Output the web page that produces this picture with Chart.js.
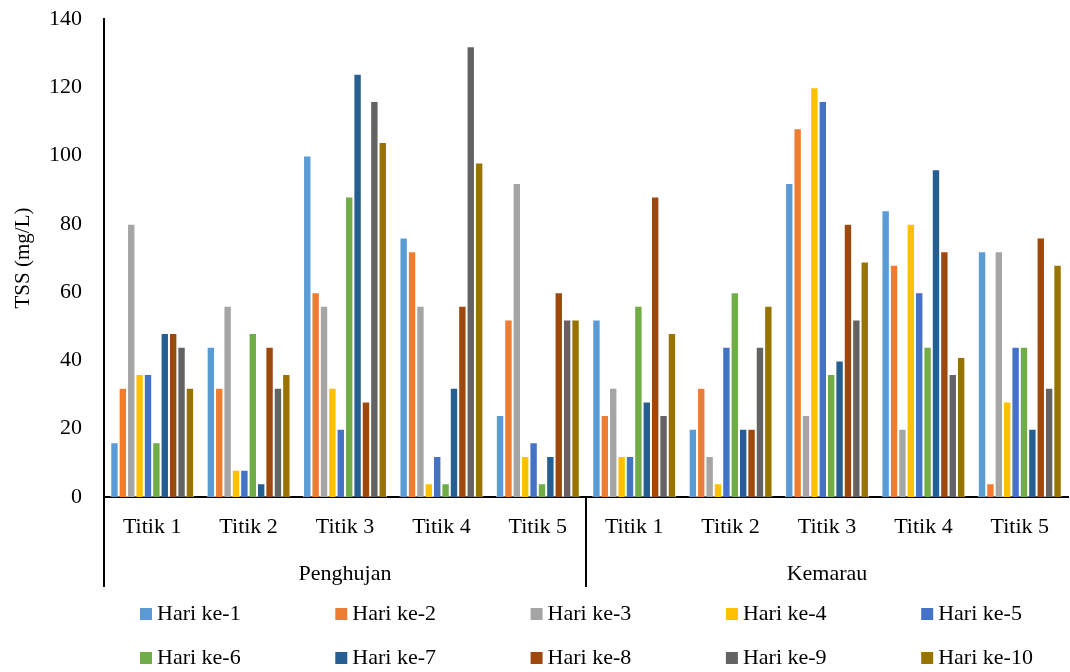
<!DOCTYPE html>
<html>
<head>
<meta charset="utf-8">
<script src="https://cdn.jsdelivr.net/npm/chart.js@4/dist/chart.umd.min.js"></script>
<style>
  html, body { margin: 0; padding: 0; background: #ffffff; }
  #wrap { width: 1070px; height: 672px; }
</style>
</head>
<body>
<div id="wrap"><canvas id="chart" width="1070" height="672"></canvas></div>
<script>
// Sampling points, grouped by season
const categories = ['Titik 1', 'Titik 2', 'Titik 3', 'Titik 4', 'Titik 5',
                    'Titik 1', 'Titik 2', 'Titik 3', 'Titik 4', 'Titik 5'];
const seasons = ['Penghujan', 'Kemarau'];
const pointsPerSeason = 5;

const seriesNames = ['Hari ke-1', 'Hari ke-2', 'Hari ke-3', 'Hari ke-4', 'Hari ke-5',
                     'Hari ke-6', 'Hari ke-7', 'Hari ke-8', 'Hari ke-9', 'Hari ke-10'];

// TSS (mg/L) per day, Penghujan Titik 1-5 then Kemarau Titik 1-5
const hari1  = [16, 44, 100, 76, 24,   52, 20, 92, 84, 72];
const hari2  = [32, 32, 60, 72, 52,    24, 32, 108, 68, 4];
const hari3  = [80, 56, 56, 56, 92,    32, 12, 24, 20, 72];
const hari4  = [36, 8, 32, 4, 12,      12, 4, 120, 80, 28];
const hari5  = [36, 8, 20, 12, 16,     12, 44, 116, 60, 44];
const hari6  = [16, 48, 88, 4, 4,      56, 60, 36, 44, 44];
const hari7  = [48, 4, 124, 32, 12,    28, 20, 40, 96, 20];
const hari8  = [48, 44, 28, 56, 60,    88, 20, 80, 72, 76];
const hari9  = [44, 32, 116, 132, 52,  24, 44, 52, 36, 32];
const hari10 = [32, 36, 104, 98, 52,   48, 56, 69, 41, 68];

const yTicks = { min: 0, max: 140, step: 20 };
const yTitle = 'TSS (mg/L)';

const seriesValues = [hari1, hari2, hari3, hari4, hari5, hari6, hari7, hari8, hari9, hari10];
const palette = ['#5B9BD5', '#ED7D31', '#A5A5A5', '#FFC000', '#4472C4',
                 '#70AD47', '#255E91', '#9E480E', '#636363', '#997300'];

const FONT = '"Liberation Serif", "Times New Roman", serif';

const datasets = seriesNames.map((name, i) => ({
  label: name,
  data: seriesValues[i],
  backgroundColor: palette[i],
  borderColor: 'rgba(255,255,255,0.75)',
  borderWidth: 1,
  borderSkipped: 'bottom',
  categoryPercentage: 0.87,
  barPercentage: 1.0
}));

// Season labels and separators beneath the category labels
const seasonAxis = {
  id: 'seasonAxis',
  afterDraw(chart) {
    const { ctx, scales: { x } } = chart;
    const bottom = chart.chartArea.bottom;
    const lineEnd = 587;
    const bounds = [x.left];
    for (let s = 1; s < seasons.length; s++) {
      const a = x.getPixelForValue(s * pointsPerSeason - 1);
      const b = x.getPixelForValue(s * pointsPerSeason);
      bounds.push((a + b) / 2);
    }
    bounds.push(x.right);
    ctx.save();
    ctx.strokeStyle = '#000000';
    ctx.lineWidth = 2;
    for (let i = 0; i < bounds.length - 1; i++) {
      ctx.beginPath();
      ctx.moveTo(bounds[i], bottom);
      ctx.lineTo(bounds[i], lineEnd);
      ctx.stroke();
    }
    ctx.fillStyle = '#000000';
    ctx.font = '22px ' + FONT;
    ctx.textAlign = 'center';
    ctx.textBaseline = 'middle';
    seasons.forEach((name, i) => {
      ctx.fillText(name, (bounds[i] + bounds[i + 1]) / 2, 574);
    });
    ctx.restore();
  }
};

// Legend laid out as a 5-column grid
const gridLegend = {
  id: 'gridLegend',
  afterDraw(chart) {
    const { ctx } = chart;
    const cols = 5, x0 = 140, colW = 195.3, rowYs = [614, 658], box = 12;
    ctx.save();
    ctx.font = '22px ' + FONT;
    ctx.textBaseline = 'middle';
    ctx.textAlign = 'left';
    chart.data.datasets.forEach((ds, i) => {
      const x = x0 + (i % cols) * colW;
      const y = rowYs[Math.floor(i / cols)];
      ctx.fillStyle = ds.backgroundColor;
      ctx.fillRect(x, y - box / 2, box, box);
      ctx.fillStyle = '#000000';
      ctx.fillText(ds.label, x + box + 5, y);
    });
    ctx.restore();
  }
};

new Chart(document.getElementById('chart'), {
  type: 'bar',
  data: { labels: categories, datasets },
  options: {
    responsive: false,
    animation: false,
    layout: { padding: { left: 0, right: 2, top: 19, bottom: 0 } },
    plugins: {
      legend: { display: false },
      tooltip: { enabled: false }
    },
    scales: {
      x: {
        grid: { display: false, drawTicks: false },
        border: { display: true, color: '#000000', width: 2 },
        ticks: {
          color: '#000000',
          font: { family: FONT, size: 22 },
          padding: 17,
          maxRotation: 0,
          autoSkip: false
        },
        afterFit(scale) { scale.height = 175; scale.paddingLeft = 0; scale.paddingRight = 0; }
      },
      y: {
        min: yTicks.min,
        max: yTicks.max,
        grid: { display: false, drawTicks: false },
        border: { display: true, color: '#000000', width: 2 },
        ticks: {
          stepSize: yTicks.step,
          color: '#000000',
          font: { family: FONT, size: 22 },
          padding: 22
        },
        title: {
          display: true,
          text: yTitle,
          color: '#000000',
          font: { family: FONT, size: 21 },
          padding: { top: 11, bottom: 0 }
        },
        afterFit(scale) { scale.width = 104; scale.paddingTop = 0; scale.paddingBottom = 0; }
      }
    }
  },
  plugins: [seasonAxis, gridLegend]
});
</script>
</body>
</html>
